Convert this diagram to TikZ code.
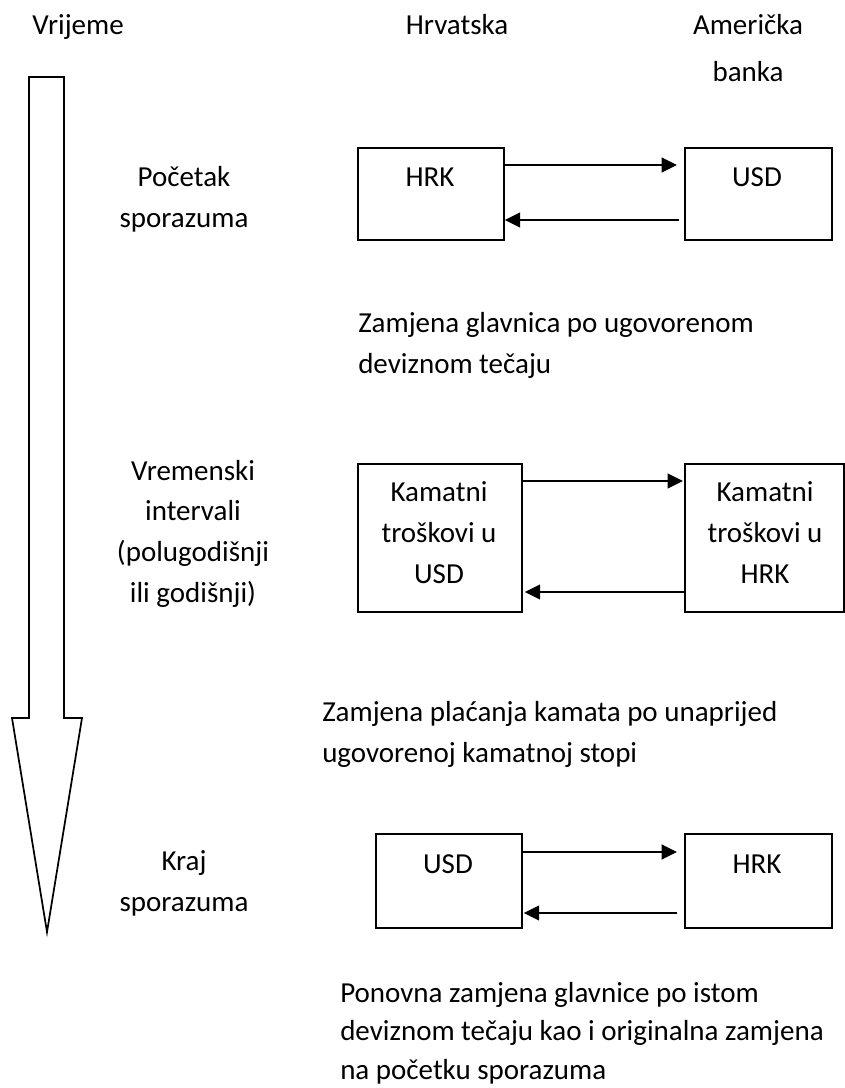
\documentclass[tikz,border=0pt]{standalone}
\usepackage{fontspec}
\setmainfont{Carlito}
\usetikzlibrary{arrows.meta,calc}
\begin{document}
\begin{tikzpicture}[x=0.75pt,y=-0.75pt,
  every node/.style={font=\fontsize{21.75pt}{30.4pt}\selectfont, inner sep=0pt},
  box/.style={draw, line width=1.3pt, anchor=north west},
  lbl/.style={anchor=base, align=center},
  para/.style={anchor=base west, align=left},
  conn/.style={line width=1.7pt, -{Triangle[length=11.5pt,width=11pt]}},
  bigarrow/.style={draw, line width=1.3pt, line join=miter}]
\useasboundingbox (0,0) rectangle (844,1088);

% headers (anchor = baseline of the last line)
\node[lbl] (hv) at (78,35) {Vrijeme};
\node[lbl] (hh) at (457,35) {Hrvatska};
\node[lbl] (ha) at (748,82) {Američka\\[5pt]banka};

% time arrow
\draw[bigarrow] (29,77) -- (64,77) -- (64,718) -- (82,718) -- (47,932) -- (12,718) -- (29,718) -- cycle;

% left labels
\node[lbl] (l1) at (184,227) {Početak\\sporazuma};
\node[lbl] (l2) at (193,602) {Vremenski\\intervali\\(polugodišnji\\ili godišnji)};
\node[lbl] (l3) at (184,911) {Kraj\\sporazuma};

% row 1
\node[box, minimum width=109.5pt, minimum height=69pt] (b1l) at (357,147) {};
\node[box, minimum width=110.25pt, minimum height=69pt] (b1r) at (684,147) {};
\node[lbl] (t1l) at (430,186) {HRK};
\node[lbl] (t1r) at (757,186) {USD};
\draw[conn] ($(b1l.north east)+(0,18)$) -- ($(b1r.north west)+(-7,18)$);
\draw[conn] ($(b1r.north west)+(-5,73)$) -- ($(b1l.north east)+(0,73)$);

\node[para] (p1) at (358,373) {Zamjena glavnica po ugovorenom\\deviznom tečaju};

% row 2
\node[box, minimum width=123pt, minimum height=111pt] (b2l) at (357,463) {};
\node[box, minimum width=119.25pt, minimum height=111pt] (b2r) at (684,463) {};
\node[lbl] (t2l) at (439,583) {Kamatni\\troškovi u\\USD};
\node[lbl] (t2r) at (765,583) {Kamatni\\troškovi u\\HRK};
\draw[conn] ($(b2l.north east)+(0,18)$) -- ($(b2r.north west)+(-1,18)$);
\draw[conn] ($(b2r.north west)+(0,129)$) -- ($(b2l.north east)+(2,129)$);

\node[para] (p2) at (322,762) {Zamjena plaćanja kamata po unaprijed\\ugovorenoj kamatnoj stopi};

% row 3
\node[box, minimum width=109.5pt, minimum height=70.5pt] (b3l) at (375,833) {};
\node[box, minimum width=110.25pt, minimum height=70.5pt] (b3r) at (684,833) {};
\node[lbl] (t3l) at (448,873) {USD};
\node[lbl] (t3r) at (757,873) {HRK};
\draw[conn] ($(b3l.north east)+(0,19)$) -- ($(b3r.north west)+(-7,19)$);
\draw[conn] ($(b3r.north west)+(-7,80)$) -- ($(b3l.north east)+(1,80)$);

\node[para, font=\fontsize{21.75pt}{28.8pt}\selectfont] (p3) at (340,1079) {Ponovna zamjena glavnice po istom\\deviznom tečaju kao i originalna zamjena\\na početku sporazuma};
\end{tikzpicture}
\end{document}
